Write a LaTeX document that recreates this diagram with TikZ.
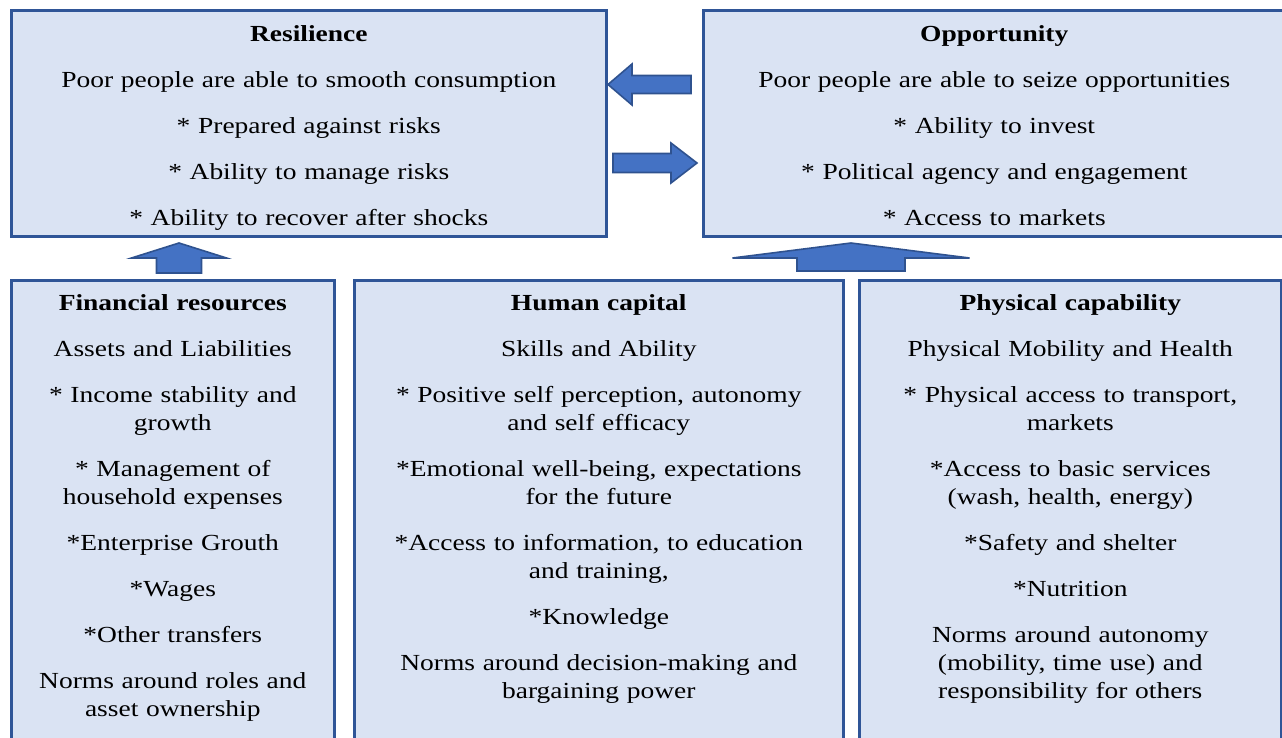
\documentclass[tikz,border=0pt]{standalone}
\usepackage{fontspec}
\setmainfont{Liberation Serif}[FakeStretch=1.195]

\definecolor{panelfill}{RGB}{218,227,243}
\definecolor{panelline}{RGB}{47,85,151}
\definecolor{arrowfill}{RGB}{68,114,196}
\definecolor{arrowline}{RGB}{47,82,143}

\begin{document}
\begin{tikzpicture}[x=0.5pt, y=-0.5pt]
    \tikzset{panel/.style={draw=panelline, fill=panelfill, line width=1.3pt, anchor=north west, inner sep=0pt}}
    \tikzset{paneltext/.style={anchor=base, align=center, inner sep=0pt, font=\fontsize{11.5}{14}\selectfont}}
    \tikzset{blockarrow/.style={draw=arrowline, fill=arrowfill, line width=0.8pt, line join=miter}}

    \useasboundingbox (0,0) rectangle (1282,738);
    \clip (0,0) rectangle (1282,738);

    % outcome boxes
    \node[panel, minimum width=297.5pt, minimum height=113pt] (res) at (10,9) {};
    \node[panel, minimum width=291pt, minimum height=113pt] (opp) at (702,9) {};

    % resource boxes, running off the bottom edge
    \node[panel, minimum width=161.5pt, minimum height=240pt] (fin) at (10,279.5) {};
    \node[panel, minimum width=244.5pt, minimum height=240pt] (hum) at (353,279.5) {};
    \node[panel, minimum width=211pt, minimum height=240pt] (phy) at (858,279.5) {};

    \node[paneltext, text width=288pt] (resText) at ([yshift=-16.5pt]res.north) {
        \textbf{Resilience}\\[9pt]
        Poor people are able to smooth consumption\\[9pt]
        * Prepared against risks\\[9pt]
        * Ability to manage risks\\[9pt]
        * Ability to recover after shocks};
    \node[paneltext, text width=280pt] (oppText) at ([yshift=-16.5pt]opp.north) {
        \textbf{Opportunity}\\[9pt]
        Poor people are able to seize opportunities\\[9pt]
        * Ability to invest\\[9pt]
        * Political agency and engagement\\[9pt]
        * Access to markets};
    \node[paneltext, text width=152pt] (finText) at ([yshift=-15.75pt]fin.north) {
        \textbf{Financial resources}\\[9pt]
        Assets and Liabilities\\[9pt]
        * Income stability and\\ growth\\[9pt]
        * Management of\\ household expenses\\[9pt]
        *Enterprise Grouth\\[9pt]
        *Wages\\[9pt]
        *Other transfers\\[9pt]
        Norms around roles and\\ asset ownership};
    \node[paneltext, text width=234pt] (humText) at ([yshift=-15.75pt]hum.north) {
        \textbf{Human capital}\\[9pt]
        Skills and Ability\\[9pt]
        * Positive self perception, autonomy\\ and self efficacy\\[9pt]
        *Emotional well-being, expectations\\ for the future\\[9pt]
        *Access to information, to education\\ and training,\\[9pt]
        *Knowledge\\[9pt]
        Norms around decision-making and\\ bargaining power};
    \node[paneltext, text width=200pt] (phyText) at ([yshift=-15.75pt]phy.north) {
        \textbf{Physical capability}\\[9pt]
        Physical Mobility and Health\\[9pt]
        * Physical access to transport,\\ markets\\[9pt]
        *Access to basic services\\ (wash, health, energy)\\[9pt]
        *Safety and shelter\\[9pt]
        *Nutrition\\[9pt]
        Norms around autonomy\\ (mobility, time use) and\\ responsibility for others};

    % block arrows between the boxes
    \coordinate (tipL) at (608,84.5);
    \coordinate (tipR) at (697,163);
    \coordinate (tipFin) at (179,243);
    \coordinate (tipOpp) at (851,243);

    \draw[blockarrow] (tipL) -- ++(24,-20.5) -- ++(0,11.5) -- ++(59,0) -- ++(0,18) -- ++(-59,0) -- ++(0,11.5) -- cycle;
    \draw[blockarrow] (tipR) -- ++(-26,-20) -- ++(0,10.5) -- ++(-58,0) -- ++(0,19) -- ++(58,0) -- ++(0,10.5) -- cycle;
    \draw[blockarrow] (tipFin) -- ++(47.5,15) -- ++(-25,0) -- ++(0,15) -- ++(-45,0) -- ++(0,-15) -- ++(-25,0) -- cycle;
    \draw[blockarrow] (tipOpp) -- ++(118.5,15) -- ++(-64.5,0) -- ++(0,13) -- ++(-108,0) -- ++(0,-13) -- ++(-64.5,0) -- cycle;
\end{tikzpicture}
\end{document}
